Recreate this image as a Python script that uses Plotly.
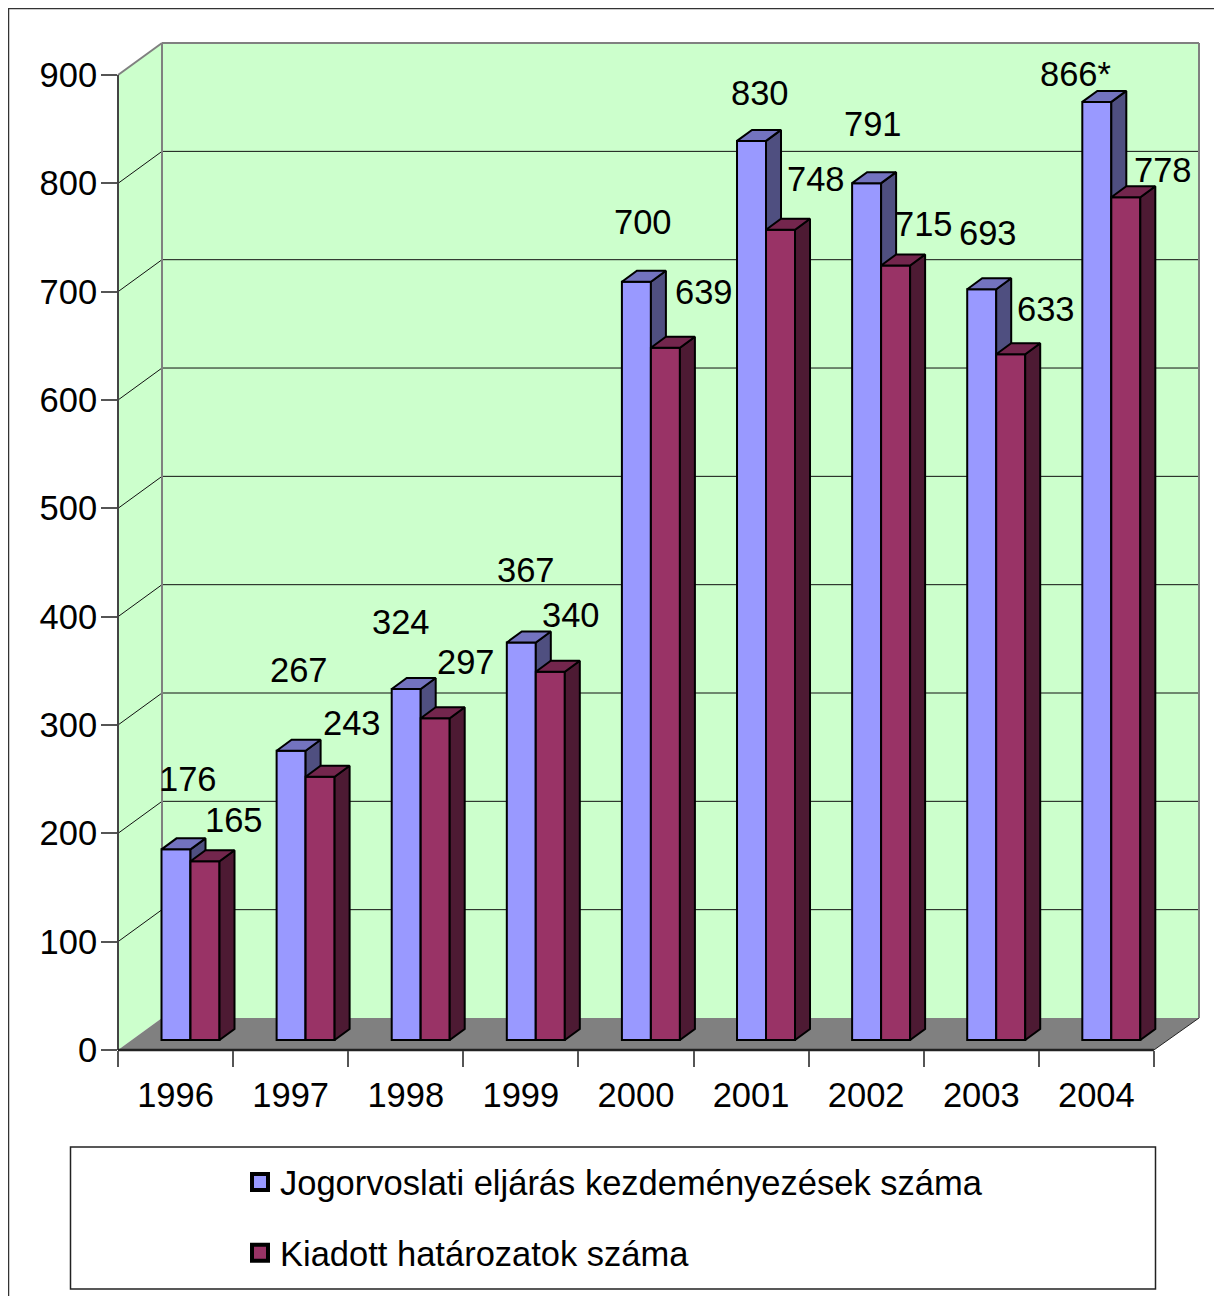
import plotly.graph_objects as go

# ---- data ----
years = ["1996", "1997", "1998", "1999", "2000", "2001", "2002", "2003", "2004"]
kezdemenyezesek = [176, 267, 324, 367, 700, 830, 791, 693, 866]
hatarozatok = [165, 243, 297, 340, 639, 748, 715, 633, 778]
kezd_labels = ["176", "267", "324", "367", "700", "830", "791", "693", "866*"]
hat_labels = ["165", "243", "297", "340", "639", "748", "715", "633", "778"]
y_ticks = [0, 100, 200, 300, 400, 500, 600, 700, 800, 900]
name_a = "Jogorvoslati eljárás kezdeményezések száma"
name_b = "Kiadott határozatok száma"

# ---- layout constants ----
W, H = 1222, 1288
PL, PT, PW, PH = 110, 35, 1081, 1007      # plot box in figure pixels
PX_X, PX_Y = 115.1, 1.0833                # pixels per category / per value unit
XMAX, YMAX = PW / PX_X, PH / PX_Y
WALL_DX, WALL_DY = 44 / PX_X, 32 / PX_Y
DEPTH_DX, DEPTH_DY = 15 / PX_X, 11 / PX_Y
LIFT = 9.2
BAR_W = 29 / PX_X
PAIR_SHIFT = 0.1300

# label offsets from bar-top centre (pixels)
off_a = [(12, 70), (8, 81), (-5, 67), (5, 72), (7, 60), (8, 48), (6, 59), (6, 56), (-21, 28)]
off_b = [(29, 41), (32, 54), (31, 56), (21, 57), (39, 56), (35, 51), (28, 41), (35, 45), (37, 27)]

FONT = "Liberation Sans, Arial, sans-serif"
FS = 34.5
GREEN, GREY = "#CCFFCC", "#808080"


def pxx(x):
    return x / XMAX


def pxy(y):
    return y / YMAX


def fig_x(px):
    return (px - PL) / PW


def fig_y(px):
    return 1 - (px - PT) / PH


def poly(points, **kw):
    d = "M" + " L".join(f"{pxx(x):.5f},{pxy(y):.5f}" for x, y in points) + " Z"
    return dict(type="path", path=d, xref="paper", yref="paper", layer="below", **kw)


def seg(x0, y0, x1, y1, color, width, layer="below"):
    return dict(type="line", xref="paper", yref="paper", layer=layer,
                x0=pxx(x0), y0=pxy(y0), x1=pxx(x1), y1=pxy(y1),
                line=dict(color=color, width=width))


shapes = [
    poly([(0, 0), (WALL_DX, WALL_DY), (WALL_DX, YMAX), (0, 900)], fillcolor=GREEN, line=dict(width=0)),
    poly([(WALL_DX, WALL_DY), (XMAX, WALL_DY), (XMAX, YMAX), (WALL_DX, YMAX)], fillcolor=GREEN, line=dict(width=0)),
]
for v in y_ticks[1:-1]:
    shapes.append(seg(0, v, WALL_DX, v + WALL_DY, "#111111", 1))
    shapes.append(seg(WALL_DX, v + WALL_DY, XMAX, v + WALL_DY, "#111111", 1))
shapes += [
    poly([(0, 0), (WALL_DX, WALL_DY), (XMAX, WALL_DY), (9, 0)], fillcolor=GREY, line=dict(width=0)),
    seg(9, 0, XMAX, WALL_DY, "#222222", 1),
    seg(0, 900, WALL_DX, YMAX, GREY, 2),
    seg(WALL_DX, YMAX, XMAX, YMAX, GREY, 2),
    seg(WALL_DX, WALL_DY, WALL_DX, YMAX, GREY, 2),
    seg(XMAX, WALL_DY, XMAX, YMAX, GREY, 2),
    seg(0, 0, 0, 900, "#444444", 2),
    seg(0, 0, 9, 0, "#222222", 2.5),
]
# outer frame and legend box (pixels on the figure)
shapes += [
    dict(type="line", xref="paper", yref="paper", x0=fig_x(0.5), x1=fig_x(0.5), y0=fig_y(0), y1=fig_y(H),
         line=dict(color="#333333", width=1.5)),
    dict(type="line", xref="paper", yref="paper", x0=fig_x(0), x1=fig_x(W), y0=fig_y(0.5), y1=fig_y(0.5),
         line=dict(color="#333333", width=1.5)),
    dict(type="rect", xref="paper", yref="paper", x0=fig_x(62.5), x1=fig_x(1147.5), y0=fig_y(1281), y1=fig_y(1139),
         line=dict(color="#222222", width=1.5)),
]


def faces(values, left):
    side_x, side_y, top_x, top_y = [], [], [], []
    for i, v in enumerate(values):
        x0 = i + left
        x1 = x0 + BAR_W
        t = v + LIFT
        side_x += [x1, x1 + DEPTH_DX, x1 + DEPTH_DX, x1, x1, None]
        side_y += [LIFT, LIFT + DEPTH_DY, t + DEPTH_DY, t, LIFT, None]
        top_x += [x0, x0 + DEPTH_DX, x1 + DEPTH_DX, x1, x0, None]
        top_y += [t, t + DEPTH_DY, t + DEPTH_DY, t, t, None]
    return side_x, side_y, top_x, top_y


LINE = dict(color="black", width=2)
left_a = 0.5 + PAIR_SHIFT - BAR_W
left_b = 0.5 + PAIR_SHIFT


def add_series(fig, values, left, name, front, top, side, xa, ya):
    sx, sy, tx, ty = faces(values, left)
    fig.add_trace(go.Bar(x=[i + left + BAR_W / 2 for i in range(len(values))], y=values, base=LIFT,
                         width=BAR_W, name=name, showlegend=False, hoverinfo="skip",
                         marker=dict(color=front, line=LINE), xaxis=xa, yaxis=ya))
    for xs, ys, col in ((sx, sy, side), (tx, ty, top)):
        fig.add_trace(go.Scatter(x=xs, y=ys, mode="lines", fill="toself", fillcolor=col, line=LINE,
                                 showlegend=False, hoverinfo="skip", xaxis=xa, yaxis=ya))


fig = go.Figure()
add_series(fig, kezdemenyezesek, left_a, name_a, "#9999FF", "#7373BF", "#4F4F80", "x", "y")
add_series(fig, hatarozatok, left_b, name_b, "#993366", "#73264D", "#4D1A33", "x2", "y2")

for name, col, grp in ((name_a, "#9999FF", "a"), (name_b, "#993366", "b")):
    fig.add_trace(go.Scatter(x=[None], y=[None], mode="markers", name=name, legendgroup=grp,
                             marker=dict(symbol="square", size=16, color=col, line=dict(color="black", width=4))))

annotations = []
for values, labels, left, offs in ((kezdemenyezesek, kezd_labels, left_a, off_a),
                                   (hatarozatok, hat_labels, left_b, off_b)):
    for i, (v, lab, (dx, dy)) in enumerate(zip(values, labels, offs)):
        annotations.append(dict(x=i + left + BAR_W / 2, y=v + LIFT, xref="x", yref="y", text=lab,
                                showarrow=False, xanchor="center", yanchor="middle",
                                xshift=dx, yshift=dy, font=dict(family=FONT, size=FS, color="black")))

fig.update_layout(
    width=W, height=H,
    margin=dict(l=PL, r=W - PL - PW, t=PT, b=H - PT - PH, pad=0, autoexpand=False),
    paper_bgcolor="white", plot_bgcolor="rgba(0,0,0,0)",
    font=dict(family=FONT, size=FS, color="black"),
    barmode="overlay",
    shapes=shapes, annotations=annotations,
    legend=dict(x=fig_x(232), y=fig_y(1145), xanchor="left", yanchor="top",
                bgcolor="rgba(0,0,0,0)", borderwidth=0, tracegroupgap=23,
                font=dict(family=FONT, size=FS, color="black")),
    xaxis=dict(range=[0, XMAX], tickmode="array", tickvals=[i + 0.5 for i in range(9)], ticktext=years,
               ticks="", showgrid=False, zeroline=False, showline=False, ticklabelstandoff=21,
               minor=dict(tickmode="array", tickvals=list(range(10)), ticks="outside", ticklen=16,
                          tickwidth=2, tickcolor="#555555", showgrid=False)),
    yaxis=dict(range=[0, YMAX], tickmode="array", tickvals=y_ticks, ticks="outside", ticklen=16,
               tickwidth=2, tickcolor="#555555", showgrid=False, zeroline=False, showline=False,
               ticklabelstandoff=-3),
    xaxis2=dict(range=[0, XMAX], overlaying="x", visible=False),
    yaxis2=dict(range=[0, YMAX], overlaying="y", visible=False),
)

fig.write_html("out.html", config=dict(displayModeBar=False))
